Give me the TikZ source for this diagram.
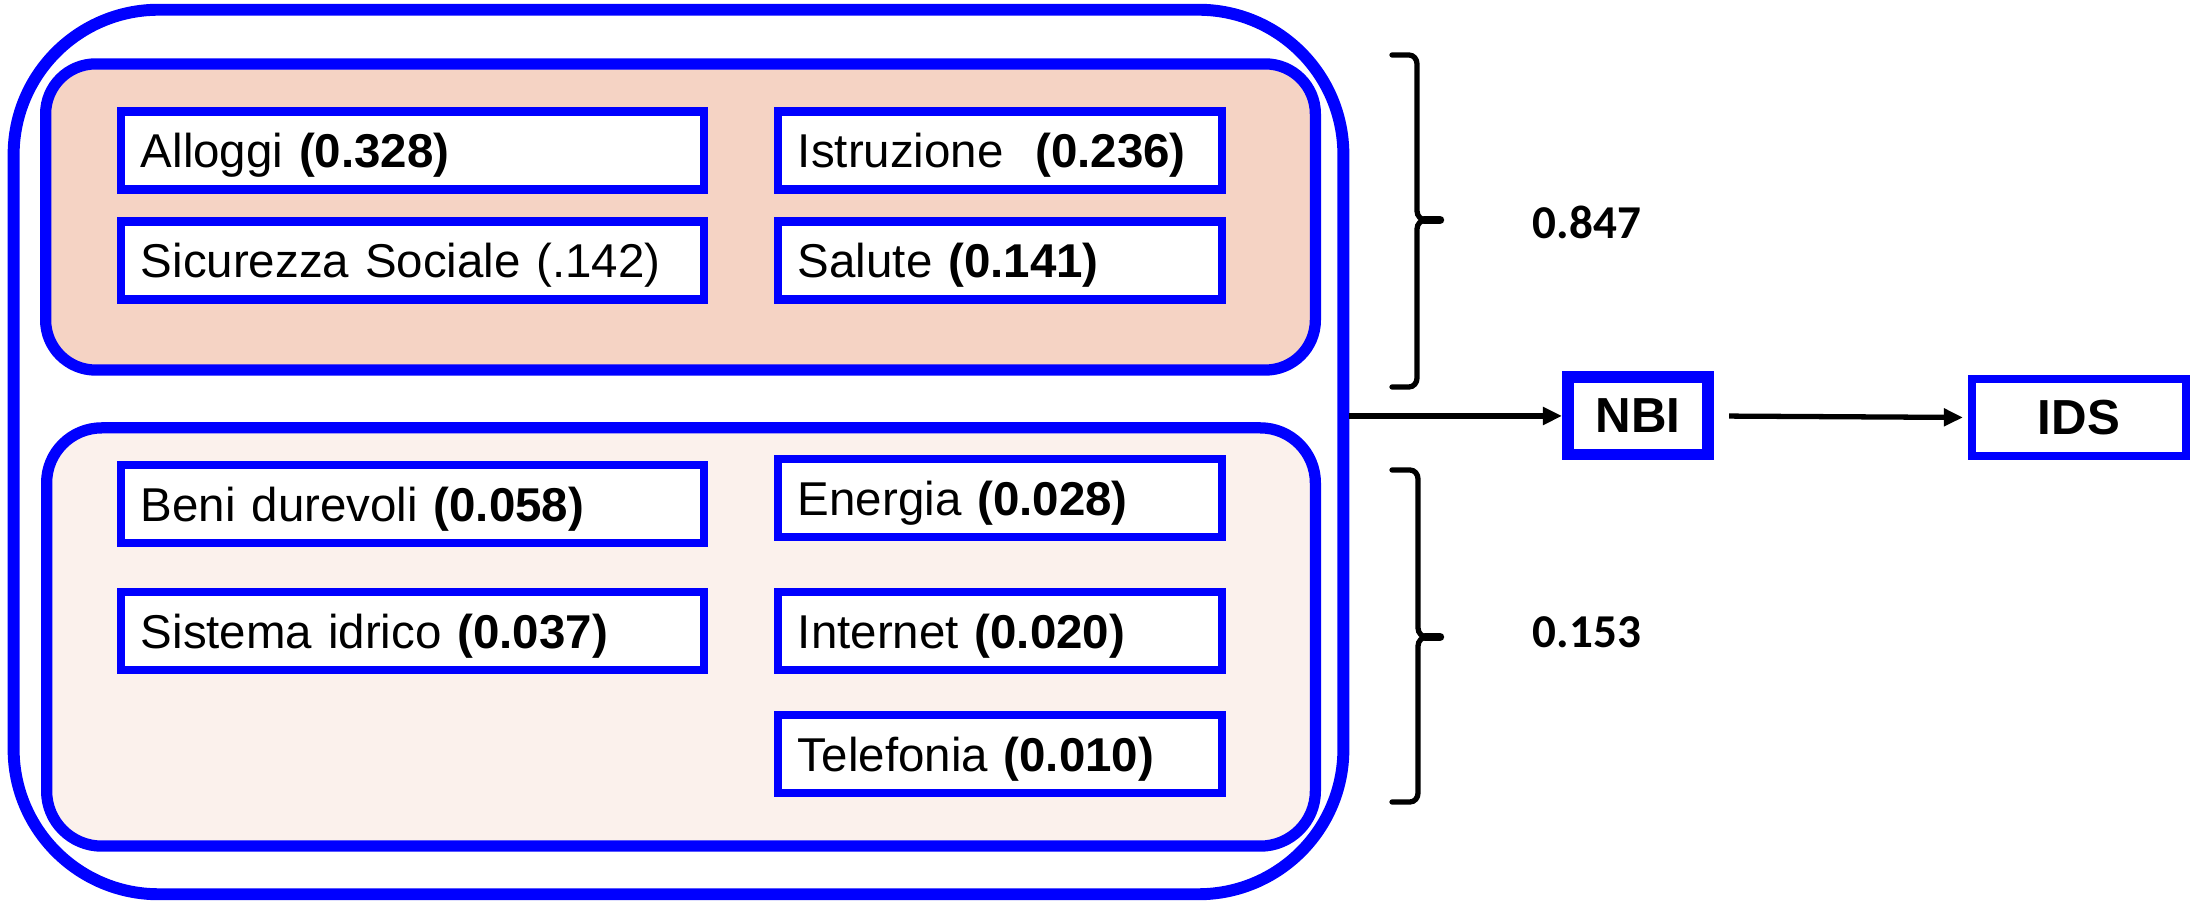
\documentclass[tikz,border=0pt]{standalone}
\usepackage{fontspec}
\setmainfont{Liberation Sans}
\newfontfamily\calfont{Carlito}
\usetikzlibrary{arrows.meta}

\definecolor{frameblue}{RGB}{0,0,255}
\definecolor{peach}{RGB}{245,211,196}
\definecolor{blush}{RGB}{251,241,236}

\tikzset{
  panel/.style={draw=frameblue, line width=3.2pt},
  itembox/.style={draw=frameblue, fill=white, line width=2.3pt,
    inner xsep=0.2cm, inner ysep=0pt, minimum height=0.78cm, align=left,
    text height=0.34cm, text depth=0pt,
    font=\fontsize{13.5}{16}\selectfont},
  widebox/.style={itembox, text width=5.43cm},
  narrowbox/.style={itembox, text width=4.04cm},
  brace/.style={draw=black, line width=1.5pt, line cap=round},
  weight/.style={font=\calfont\bfseries\fontsize{13.4}{16}\selectfont},
  flow/.style={draw=black, line width=1.5pt, -{Triangle[length=0.19cm,width=0.17cm]}},
  result/.style={draw=frameblue, fill=white, font=\bfseries\fontsize{14}{16}\selectfont,
    inner sep=0pt}
}

\begin{document}
\begin{tikzpicture}[x=0.01cm, y=-0.01cm]
  \useasboundingbox (0,0) rectangle (2194,901);

  % outer container and the two group panels
  \node[panel, line width=3.4pt, rounded corners=1.45cm, minimum width=13.29cm, minimum height=8.84cm, inner sep=0pt]
    (outer) at (678.5,452) {};
  \node[panel, fill=peach, rounded corners=0.5cm, minimum width=12.69cm, minimum height=3.06cm, inner sep=0pt]
    (upper) at (680.5,217) {};
  \node[panel, fill=blush, rounded corners=0.55cm, minimum width=12.68cm, minimum height=4.18cm, inner sep=0pt]
    (lower) at (681,637) {};

  % upper group
  \node[widebox]  (alloggi)    at (412.5,150.5) {Alloggi \textbf{(0.328)}};
  \node[narrowbox] (istruzione) at (1000,150.5) {Istruzione\ \ \textbf{(0.236)}};
  \node[widebox]  (sicurezza)  at (412.5,260.5) {Sicurezza Sociale (.142)};
  \node[narrowbox] (salute)     at (1000,260.5) {Salute \textbf{(0.141)}};

  % lower group
  \node[widebox]  (beni)      at (412.5,504) {Beni durevoli \textbf{(0.058)}};
  \node[narrowbox] (energia)   at (1000,498) {Energia \textbf{(0.028)}};
  \node[widebox]  (idrico)    at (412.5,631) {Sistema idrico \textbf{(0.037)}};
  \node[narrowbox] (internet)  at (1000,631) {Internet \textbf{(0.020)}};
  \node[narrowbox] (telefonia) at (1000,754) {Telefonia \textbf{(0.010)}};

  % braces with group weights
  \draw[brace] (1392,55) -- (1409,55) to[out=0,in=90] (1417,64) -- (1417,211)
    to[out=-90,in=180] (1426,220) -- (1440,220);
  \draw[brace] (1426,220) to[out=180,in=90] (1417,229) -- (1417,378)
    to[out=-90,in=0] (1409,387) -- (1392,387);
  \draw[brace, line width=2.4pt] (1424,220) -- (1440,220);
  \draw[brace] (1392,470) -- (1410,470) to[out=0,in=90] (1418,479) -- (1418,628)
    to[out=-90,in=180] (1427,637) -- (1440,637);
  \draw[brace] (1427,637) to[out=180,in=90] (1418,646) -- (1418,793)
    to[out=-90,in=0] (1410,802) -- (1392,802);
  \draw[brace, line width=2.4pt] (1425,637) -- (1440,637);
  \node[weight] (w1) at (1587,222) {0.847};
  \node[weight] (w2) at (1587,632) {0.153};

  % indices
  \node[result, line width=3.4pt, minimum width=1.40cm, minimum height=0.77cm] (nbi) at (1638,416) {NBI};
  \node[result, line width=2.3pt, minimum width=2.14cm, minimum height=0.77cm] (ids) at (2079,417.5) {IDS};

  \draw[flow] (outer.east |- nbi) -- (nbi.west);
  \draw[flow, shorten <=0.15cm, shorten >=0.05cm] (nbi.east) -- (ids.west);
\end{tikzpicture}
\end{document}
